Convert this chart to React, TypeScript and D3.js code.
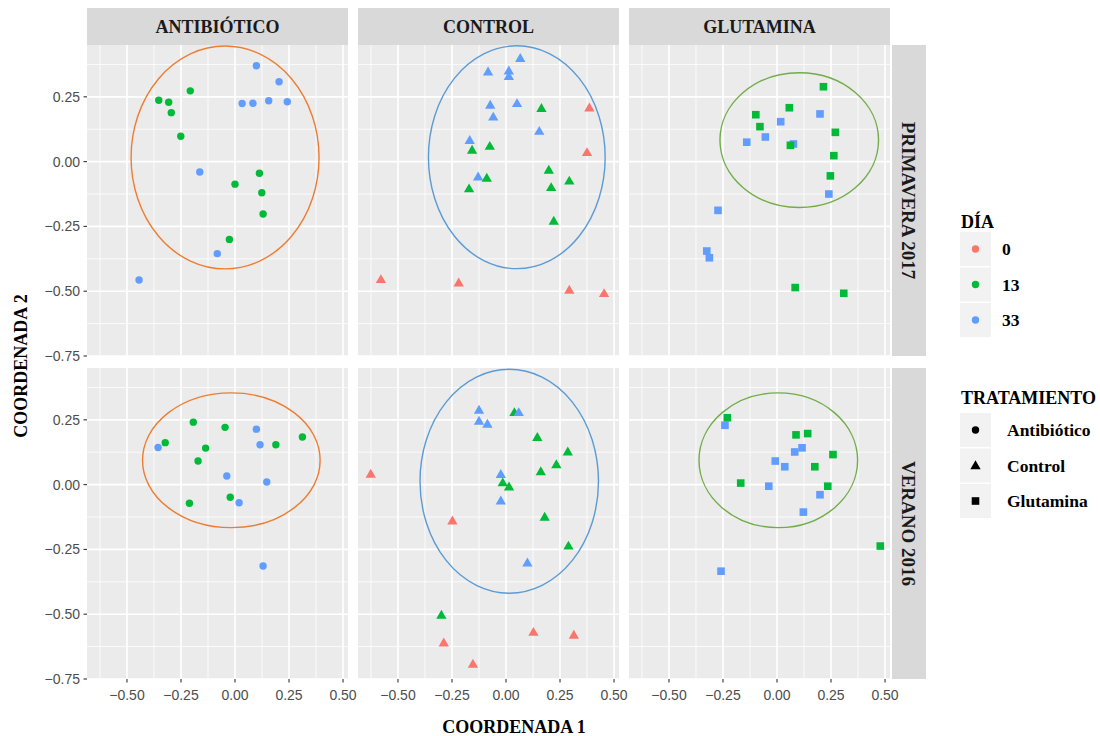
import React from "react";
import * as d3 from "d3";

// facets
const columns = ["ANTIBIÓTICO", "CONTROL", "GLUTAMINA"];
const rows = ["PRIMAVERA 2017", "VERANO 2016"];
const days = ["0", "13", "33"];
const treatments = ["Antibiótico", "Control", "Glutamina"];

const xTicks = [-0.5, -0.25, 0, 0.25, 0.5];
const yTicks = [0.25, 0, -0.25, -0.5, -0.75];
const xMinor = [-0.625, -0.375, -0.125, 0.125, 0.375];
const yMinor = [0.375, 0.125, -0.125, -0.375, -0.625];

type Pt = [number, number, string];

// row 0 = PRIMAVERA 2017
const primAntibiotico: Pt[] = [
  [0.099, 0.37, "33"], [0.204, 0.308, "33"], [0.033, 0.224, "33"], [0.083, 0.225, "33"],
  [0.156, 0.235, "33"], [0.242, 0.231, "33"], [-0.163, -0.04, "33"], [-0.082, -0.355, "33"],
  [-0.444, -0.457, "33"],
  [-0.353, 0.237, "13"], [-0.307, 0.229, "13"], [-0.295, 0.189, "13"], [-0.207, 0.273, "13"],
  [-0.251, 0.098, "13"], [0.0, -0.087, "13"], [0.113, -0.045, "13"], [0.124, -0.12, "13"],
  [0.13, -0.202, "13"], [-0.026, -0.3, "13"],
];
const primControl: Pt[] = [
  [0.066, 0.399, "33"], [-0.083, 0.347, "33"], [0.013, 0.351, "33"], [0.013, 0.33, "33"],
  [-0.073, 0.219, "33"], [0.051, 0.225, "33"], [-0.059, 0.173, "33"], [0.154, 0.118, "33"],
  [-0.168, 0.083, "33"], [-0.129, -0.058, "33"],
  [0.164, 0.206, "13"], [-0.157, 0.045, "13"], [-0.075, 0.06, "13"], [-0.089, -0.063, "13"],
  [-0.171, -0.104, "13"], [0.198, -0.032, "13"], [0.209, -0.099, "13"], [0.293, -0.074, "13"],
  [0.221, -0.229, "13"],
  [0.386, 0.208, "0"], [0.375, 0.036, "0"], [-0.579, -0.454, "0"], [-0.219, -0.467, "0"],
  [0.293, -0.495, "0"], [0.454, -0.508, "0"],
];
const primGlutamina: Pt[] = [
  [0.199, 0.184, "33"], [0.017, 0.154, "33"], [-0.054, 0.095, "33"], [-0.14, 0.075, "33"],
  [0.076, 0.068, "33"], [0.24, -0.125, "33"], [-0.273, -0.188, "33"], [-0.325, -0.345, "33"],
  [-0.313, -0.371, "33"],
  [0.215, 0.289, "13"], [0.057, 0.208, "13"], [-0.098, 0.181, "13"], [-0.079, 0.135, "13"],
  [0.27, 0.113, "13"], [0.062, 0.063, "13"], [0.263, 0.023, "13"], [0.247, -0.055, "13"],
  [0.084, -0.486, "13"], [0.309, -0.508, "13"],
];
// row 1 = VERANO 2016
const verAntibiotico: Pt[] = [
  [-0.193, 0.241, "13"], [-0.046, 0.221, "13"], [-0.323, 0.162, "13"], [-0.136, 0.141, "13"],
  [0.189, 0.154, "13"], [0.312, 0.184, "13"], [-0.171, 0.091, "13"], [-0.022, -0.049, "13"],
  [-0.211, -0.072, "13"],
  [-0.356, 0.143, "33"], [0.099, 0.214, "33"], [0.116, 0.154, "33"], [-0.038, 0.033, "33"],
  [0.147, 0.01, "33"], [0.019, -0.07, "33"], [0.13, -0.314, "33"],
];
const verControl: Pt[] = [
  [0.039, 0.279, "13"], [0.145, 0.183, "13"], [0.286, 0.127, "13"], [0.233, 0.078, "13"],
  [0.161, 0.051, "13"], [-0.015, 0.008, "13"], [0.014, -0.008, "13"], [0.179, -0.125, "13"],
  [0.289, -0.236, "13"], [-0.299, -0.503, "13"],
  [-0.125, 0.288, "33"], [-0.125, 0.246, "33"], [-0.086, 0.234, "33"], [0.059, 0.279, "33"],
  [-0.024, 0.04, "33"], [-0.024, -0.062, "33"], [0.099, -0.301, "33"],
  [-0.626, 0.041, "0"], [-0.248, -0.139, "0"], [0.127, -0.569, "0"], [0.314, -0.58, "0"],
  [-0.288, -0.61, "0"], [-0.153, -0.692, "0"],
];
const verGlutamina: Pt[] = [
  [-0.241, 0.229, "33"], [0.116, 0.142, "33"], [0.082, 0.126, "33"], [-0.008, 0.091, "33"],
  [0.036, 0.069, "33"], [-0.038, -0.006, "33"], [0.199, -0.039, "33"], [0.122, -0.106, "33"],
  [-0.259, -0.334, "33"],
  [-0.23, 0.258, "13"], [0.088, 0.192, "13"], [0.142, 0.197, "13"], [0.259, 0.116, "13"],
  [0.175, 0.069, "13"], [-0.168, 0.006, "13"], [0.235, -0.006, "13"], [0.478, -0.237, "13"],
];

const panelData: Pt[][][] = [
  [primAntibiotico, primControl, primGlutamina],
  [verAntibiotico, verControl, verGlutamina],
];

// ellipses [cx, cy, rx, ry] in data units
const ellipses: number[][][] = [
  [[-0.046, 0.016, 0.435, 0.43], [0.05, 0.017, 0.409, 0.43], [0.103, 0.083, 0.367, 0.26]],
  [[-0.017, 0.094, 0.411, 0.26], [0.015, 0.013, 0.413, 0.432], [0.006, 0.094, 0.367, 0.26]],
];

const dayColor = d3.scaleOrdinal<string, string>().domain(days).range(["#F8766D", "#00BA38", "#619CFF"]);
const ellipseColor = ["#ED7D31", "#5B9BD5", "#70AD47"];

const panelW = 261;
const panelH = 311;
const left0 = 87;
const top0 = 45;
const gapX = 10;
const gapY = 12;
const serif = "'Liberation Serif', 'Times New Roman', serif";
const sans = "'Liberation Sans', Arial, sans-serif";

const x = d3.scaleLinear().domain([-0.685, 0.523]).range([0, panelW]);
const y = d3.scaleLinear().domain([-0.75, 0.45]).range([panelH, 0]);

const triangle = d3.symbol(d3.symbolTriangle, 46);

function Marker({ shape, cx, cy, fill }: { shape: number; cx: number; cy: number; fill: string }) {
  if (shape === 0) return <circle cx={cx} cy={cy} r={3.7} fill={fill} />;
  if (shape === 1) return <path d={triangle() || ""} transform={`translate(${cx},${cy + 0.8})`} fill={fill} />;
  return <rect x={cx - 3.8} y={cy - 3.8} width={7.6} height={7.6} fill={fill} />;
}

export default function App() {
  const W = 1100;
  const H = 736;
  return (
    <svg width={W} height={H} style={{ display: "block", position: "absolute", left: 0, top: 0, background: "#fff" }}>
      {rows.map((rowName, r) => {
        const py = top0 + r * (panelH + gapY);
        return (
          <g key={rowName}>
            {columns.map((colName, c) => {
              const px = left0 + c * (panelW + gapX);
              const e = ellipses[r][c];
              return (
                <g key={colName} transform={`translate(${px},${py})`}>
                  <rect width={panelW} height={panelH} fill="#EBEBEB" />
                  {xMinor.map((v) => (
                    <line key={"xm" + v} x1={x(v)} x2={x(v)} y1={0} y2={panelH} stroke="#fff" strokeWidth={0.8} />
                  ))}
                  {yMinor.map((v) => (
                    <line key={"ym" + v} y1={y(v)} y2={y(v)} x1={0} x2={panelW} stroke="#fff" strokeWidth={0.8} />
                  ))}
                  {xTicks.map((v) => (
                    <line key={"xM" + v} x1={x(v)} x2={x(v)} y1={0} y2={panelH} stroke="#fff" strokeWidth={1.6} />
                  ))}
                  {yTicks.map((v) => (
                    <line key={"yM" + v} y1={y(v)} y2={y(v)} x1={0} x2={panelW} stroke="#fff" strokeWidth={1.6} />
                  ))}
                  <ellipse
                    cx={x(e[0])}
                    cy={y(e[1])}
                    rx={x(e[0] + e[2]) - x(e[0])}
                    ry={y(e[1]) - y(e[1] + e[3])}
                    fill="none"
                    stroke={ellipseColor[c]}
                    strokeWidth={1.4}
                  />
                  {panelData[r][c].map((d, i) => (
                    <Marker key={i} shape={c} cx={x(d[0])} cy={y(d[1])} fill={dayColor(d[2])} />
                  ))}
                  {r === 1 &&
                    xTicks.map((v) => (
                      <g key={"xt" + v}>
                        <line x1={x(v)} x2={x(v)} y1={panelH} y2={panelH + 3.5} stroke="#333" strokeWidth={1.1} />
                        <text x={x(v)} y={panelH + 21} textAnchor="middle" fontFamily={sans} fontSize={14} fill="#4D4D4D">
                          {d3.format(".2f")(v)}
                        </text>
                      </g>
                    ))}
                  {c === 0 &&
                    yTicks.map((v) => (
                      <g key={"yt" + v}>
                        <line x1={-3.5} x2={0} y1={y(v)} y2={y(v)} stroke="#333" strokeWidth={1.1} />
                        <text x={-7} y={y(v)} dy="0.35em" textAnchor="end" fontFamily={sans} fontSize={14} fill="#4D4D4D">
                          {d3.format(".2f")(v)}
                        </text>
                      </g>
                    ))}
                </g>
              );
            })}
            <g transform={`translate(${left0 + 3 * panelW + 2 * gapX + 2},${py})`}>
              <rect width={34} height={panelH} fill="#D9D9D9" />
              <text
                transform={`translate(17,${panelH / 2}) rotate(90)`}
                textAnchor="middle"
                dy="0.35em"
                fontFamily={serif}
                fontWeight="bold"
                fontSize={19}
                fill="#1A1A1A"
              >
                {rowName}
              </text>
            </g>
          </g>
        );
      })}
      {columns.map((colName, c) => {
        const px = left0 + c * (panelW + gapX);
        return (
          <g key={"strip" + colName} transform={`translate(${px},8)`}>
            <rect width={panelW} height={37} fill="#D9D9D9" />
            <text x={panelW / 2} y={18.5} dy="0.35em" textAnchor="middle" fontFamily={serif} fontWeight="bold" fontSize={18} fill="#1A1A1A">
              {colName}
            </text>
          </g>
        );
      })}
      <text x={514} y={733} textAnchor="middle" fontFamily={serif} fontWeight="bold" fontSize={18} fill="#000">
        COORDENADA 1
      </text>
      <text
        transform={`translate(27,366) rotate(-90)`}
        textAnchor="middle"
        fontFamily={serif}
        fontWeight="bold"
        fontSize={18}
        fill="#000"
      >
        COORDENADA 2
      </text>

      {/* legend: DÍA */}
      <g transform="translate(960,0)">
        <text x={1} y={228} fontFamily={serif} fontWeight="bold" fontSize={18} fill="#000">
          DÍA
        </text>
        {days.map((d, i) => (
          <g key={d} transform={`translate(0,${232 + i * 35.5})`}>
            <rect width={31} height={34} fill="#F2F2F2" />
            <circle cx={15.5} cy={17} r={3.7} fill={dayColor(d)} />
            <text x={42} y={17} dy="0.35em" fontFamily={serif} fontWeight="bold" fontSize={17.5} fill="#000">
              {d}
            </text>
          </g>
        ))}
        <text x={1} y={404} fontFamily={serif} fontWeight="bold" fontSize={18} fill="#000">
          TRATAMIENTO
        </text>
        {treatments.map((t, i) => (
          <g key={t} transform={`translate(0,${413 + i * 35.5})`}>
            <rect width={31} height={34} fill="#F2F2F2" />
            <Marker shape={i} cx={15.5} cy={17} fill="#000" />
            <text x={47} y={17} dy="0.35em" fontFamily={serif} fontWeight="bold" fontSize={17.5} fill="#000">
              {t}
            </text>
          </g>
        ))}
      </g>
    </svg>
  );
}
